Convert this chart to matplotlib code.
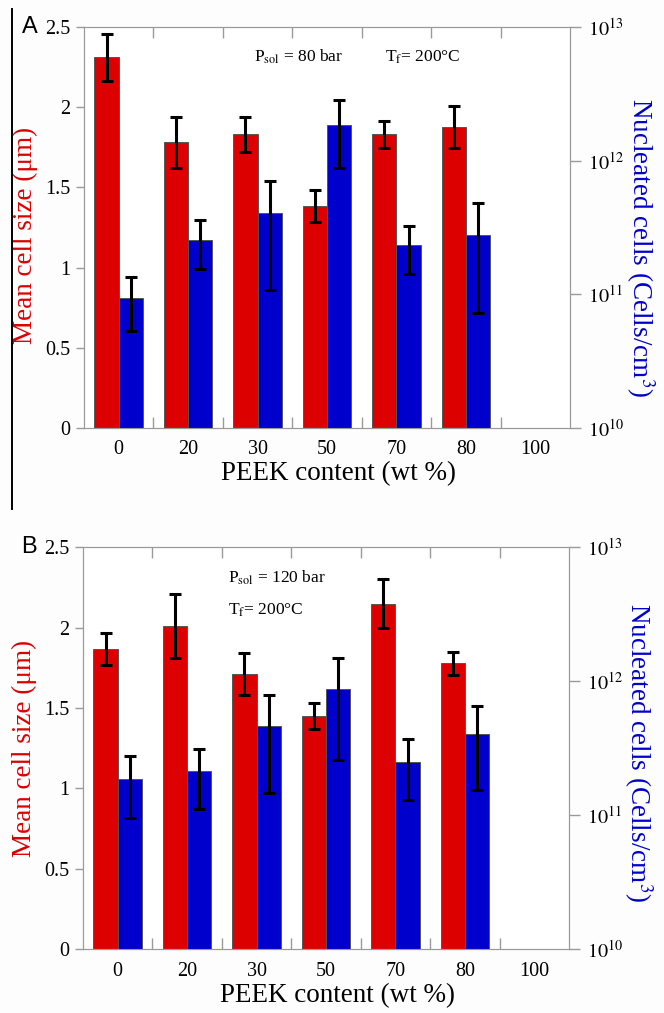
import numpy as np
import matplotlib.pyplot as plt
from matplotlib.ticker import FixedLocator, NullLocator, FormatStrFormatter, FixedFormatter
from matplotlib.lines import Line2D

plt.rcParams['font.family'] = ['Liberation Serif', 'DejaVu Serif']
plt.rcParams['mathtext.fontset'] = 'stix'

peek = ['0', '20', '30', '50', '70', '80', '100']

# panel A: Psol = 80 bar
size_a = [2.31, 1.78, 1.83, 1.385, 1.83, 1.875]
size_err_a = [0.145, 0.16, 0.11, 0.10, 0.083, 0.13]
cells_a = [9.4e10, 2.56e11, 4.07e11, 1.86e12, 2.32e11, 2.77e11]
cells_err_a = [4.1e10, 1.02e11, 3.0e11, 0.98e12, 0.91e11, 2.05e11]

# panel B: Psol = 120 bar
size_b = [1.87, 2.01, 1.71, 1.45, 2.15, 1.78]
size_err_b = [0.10, 0.20, 0.13, 0.083, 0.15, 0.072]
cells_b = [1.87e11, 2.13e11, 4.67e11, 8.7e11, 2.49e11, 4.05e11]
cells_err_b = [9.1e10, 1.02e11, 3.2e11, 6.1e11, 1.2e11, 2.5e11]

RED = '#DC0000'
BLUE = '#0000CC'
SPINE = '#9a9a9a'
w = 0.35


def panel(ax, size, size_err, cells, cells_err, tag, left_y, right_y, right_x):
    n = len(size)
    x = np.arange(n)
    ax.bar(x - w / 2, size, w, color=RED, edgecolor='#555555', linewidth=0.7, zorder=2)
    ax.errorbar(x - w / 2, size, yerr=size_err, fmt='none', ecolor='black',
                elinewidth=2.2, capsize=4, capthick=2.2, zorder=3)
    ax.set_xlim(-0.5, len(peek) - 0.5)
    ax.set_ylim(0, 2.5)
    ax.yaxis.set_major_locator(FixedLocator([0, 0.5, 1, 1.5, 2, 2.5]))
    ax.yaxis.set_major_formatter(FormatStrFormatter('%g'))
    # tick marks between categories, labels at category centres
    ax.xaxis.set_major_locator(FixedLocator(np.arange(len(peek) - 1) + 0.5))
    ax.xaxis.set_major_formatter(FixedFormatter([''] * (len(peek) - 1)))
    ax.xaxis.set_minor_locator(FixedLocator(np.arange(len(peek))))
    ax.xaxis.set_minor_formatter(FixedFormatter(peek))
    ax.tick_params(axis='x', which='major', direction='in', length=8, top=True,
                   color=SPINE, width=1)
    ax.tick_params(axis='x', which='minor', length=0, labelsize=14.5, pad=9)
    ax.tick_params(axis='y', direction='out', length=6, color=SPINE, width=1,
                   labelsize=14.5, pad=4)
    for s in ax.spines.values():
        s.set_color(SPINE)
    ax.set_ylabel('Mean cell size (\u03bcm)', color=RED, fontsize=19.5, va='center')
    ax.yaxis.set_label_coords(-0.121, left_y)
    ax.set_xlabel('PEEK content (wt %)', fontsize=19.5)
    ax.xaxis.set_label_coords(0.524, -0.083)

    ax2 = ax.twinx()
    ax2.set_yscale('log')
    ax2.set_ylim(1e10, 1e13)
    ax2.bar(x + w / 2, np.array(cells) - 1e10, w, bottom=1e10, color=BLUE,
            edgecolor='#555555', linewidth=0.7, zorder=2)
    ax2.errorbar(x + w / 2, cells, yerr=cells_err, fmt='none', ecolor='black',
                 elinewidth=2.2, capsize=4, capthick=2.2, zorder=3)
    ax2.yaxis.set_major_locator(FixedLocator([1e10, 1e11, 1e12, 1e13]))
    ax2.yaxis.set_major_formatter(FixedFormatter(['$10^{10}$', '$10^{11}$', '$10^{12}$', '$10^{13}$']))
    ax2.yaxis.set_minor_locator(NullLocator())
    ax2.tick_params(axis='y', direction='out', length=8, color=SPINE, width=1,
                    labelsize=14.5, pad=5)
    for s in ax2.spines.values():
        s.set_color(SPINE)
    ax2.set_ylabel('Nucleated cells (Cells/cm$^3$)', color=BLUE, fontsize=19.5,
                   rotation=270, va='center')
    ax2.yaxis.set_label_coords(right_x, right_y)
    ax.text(-0.128, 1.0, tag, transform=ax.transAxes, family='Liberation Sans',
            fontsize=17, ha='left', va='center')
    return ax2


fig = plt.figure(figsize=(6.64, 10.13), dpi=100, facecolor='#fdfdfd')

ax_a = fig.add_axes([0.1265, 0.5775, 0.732, 0.3959])
panel(ax_a, size_a, size_err_a, cells_a, cells_err_a, 'A', 0.481, 0.45, 1.145)
ax_a.text(0.349, 0.913, r'P$_{\mathrm{sol}}$ = 80 bar', transform=ax_a.transAxes,
          fontsize=12.5, va='baseline')
ax_a.text(0.619, 0.913, 'T$_{\\mathrm{f}}$= 200\u00b0C', transform=ax_a.transAxes,
          fontsize=12.5, va='baseline')

ax_b = fig.add_axes([0.125, 0.0629, 0.732, 0.3968])
panel(ax_b, size_b, size_err_b, cells_b, cells_err_b, 'B', 0.5, 0.49, 1.143)
ax_b.text(0.298, 0.912, r'P$_{\mathrm{sol}}$ = 120 bar', transform=ax_b.transAxes,
          fontsize=12.5, va='baseline')
ax_b.text(0.298, 0.832, 'T$_{\\mathrm{f}}$= 200\u00b0C', transform=ax_b.transAxes,
          fontsize=12.5, va='baseline')

# frame line on the left of panel A
fig.add_artist(Line2D([12 / 664, 12 / 664], [1 - 9 / 1013, 1 - 509 / 1013],
                      transform=fig.transFigure, color='black', linewidth=1.4))

fig.savefig('out.png', dpi=100, facecolor=fig.get_facecolor())
